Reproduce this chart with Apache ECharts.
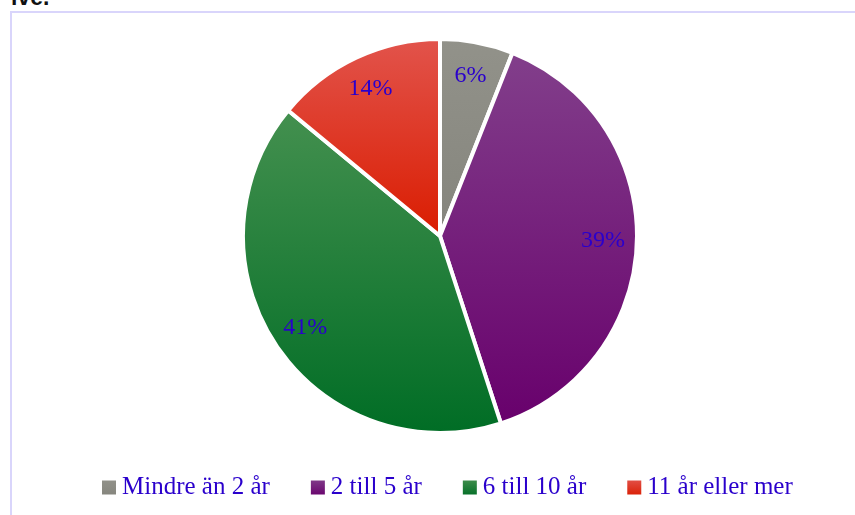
<!DOCTYPE html>
<html>
<head>
<meta charset="utf-8">
<script src="https://cdn.jsdelivr.net/npm/echarts@6/dist/echarts.min.js"></script>
<style>
  html, body { margin: 0; padding: 0; background: #fff; overflow: hidden; }
  #frame { position: absolute; left: 10px; top: 11px; width: 900px; height: 600px;
           border-top: 2px solid #d9d5fb; border-left: 2px solid #d9d5fb; }
  #cut { position: absolute; left: 11px; top: -16px; font: bold 23px "Liberation Sans", Arial, sans-serif; color: #111; }
  #chart { position: absolute; left: 0; top: 0; width: 855px; height: 515px; }
</style>
</head>
<body>
<div id="cut">ive.</div>
<div id="frame"></div>
<div id="chart"></div>
<script>
(function(){
    var categories = ['Mindre än 2 år', '2 till 5 år', '6 till 10 år', '11 år eller mer'];
    var values = [6, 39, 41, 14];
    var topColors = ['#92928a', '#823f8b', '#44904f', '#e2544c'];
    var bottomColors = ['#85857d', '#68006c', '#006d25', '#da1c00'];

    function grad(i){
        return new echarts.graphic.LinearGradient(0, 0, 0, 1, [
            {offset: 0, color: topColors[i]},
            {offset: 1, color: bottomColors[i]}
        ]);
    }

    var pieData = categories.map(function(name, i){
        return {name: name, value: values[i], itemStyle: {color: grad(i)}};
    });
    var labelData = categories.map(function(name, i){
        return {name: name, value: values[i]};
    });

    var myChart = echarts.init(document.getElementById('chart'));
    myChart.setOption({
        animation: false,
        legend: {
            top: 470,
            left: 95,
            itemWidth: 16,
            itemHeight: 16,
            itemGap: 39,
            icon: 'rect',
            data: categories,
            textStyle: {fontFamily: 'Liberation Serif', fontSize: 25, color: '#2a00cc'}
        },
        series: [{
            type: 'pie',
            center: [440, 236],
            radius: [0, 197],
            startAngle: 90,
            clockwise: true,
            silent: true,
            itemStyle: {borderColor: '#fff', borderWidth: 4},
            label: {show: false},
            labelLine: {show: false},
            data: pieData
        }, {
            type: 'pie',
            center: [440, 236],
            radius: [126, 194],
            startAngle: 90,
            clockwise: true,
            silent: true,
            itemStyle: {color: 'rgba(0,0,0,0)'},
            label: {
                show: true,
                position: 'inside',
                formatter: '{c}%',
                fontFamily: 'Liberation Serif',
                fontSize: 24,
                color: '#2a00cc'
            },
            labelLine: {show: false},
            data: labelData
        }]
    });
}());
</script>
</body>
</html>
